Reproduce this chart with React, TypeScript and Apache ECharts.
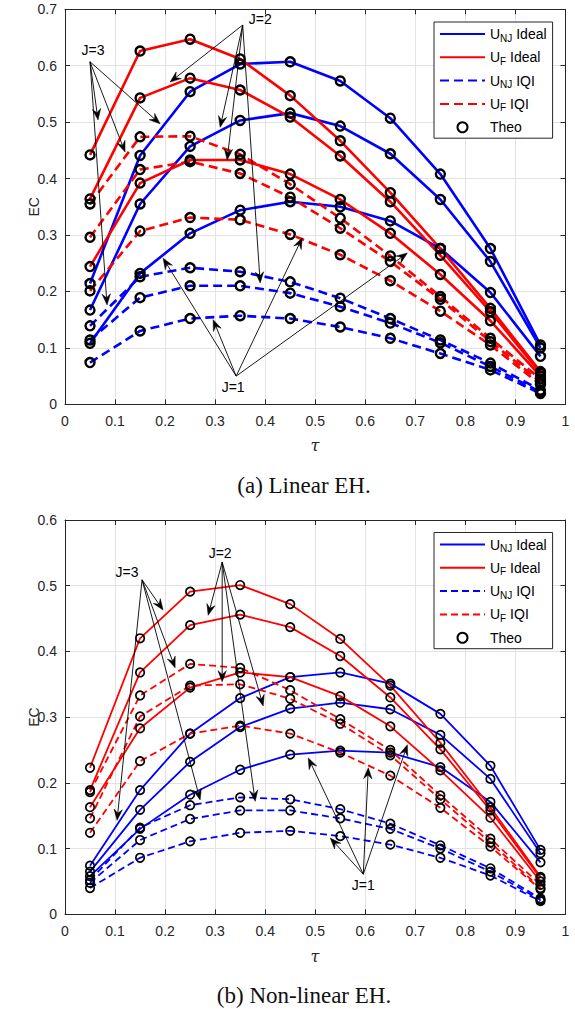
import React, { useEffect, useRef } from "react";
import * as echarts from "echarts";

// ---------- data ----------
const tau = [0.05, 0.15, 0.25, 0.35, 0.45, 0.55, 0.65, 0.75, 0.85, 0.95];

// (a) Linear EH
const linUnjIdealJ1 = [0.108, 0.232, 0.303, 0.344, 0.359, 0.350, 0.325, 0.276, 0.198, 0.085];
const linUnjIdealJ2 = [0.167, 0.355, 0.457, 0.503, 0.516, 0.493, 0.444, 0.363, 0.253, 0.100];
const linUnjIdealJ3 = [0.214, 0.441, 0.554, 0.603, 0.607, 0.573, 0.507, 0.408, 0.276, 0.105];
const linUfIdealJ1 = [0.244, 0.392, 0.433, 0.433, 0.408, 0.363, 0.303, 0.230, 0.148, 0.050];
const linUfIdealJ2 = [0.364, 0.543, 0.578, 0.557, 0.509, 0.440, 0.359, 0.264, 0.164, 0.055];
const linUfIdealJ3 = [0.442, 0.626, 0.647, 0.612, 0.547, 0.467, 0.375, 0.276, 0.170, 0.058];
const linUnjIqiJ1 = [0.074, 0.130, 0.152, 0.157, 0.152, 0.137, 0.117, 0.090, 0.061, 0.019];
const linUnjIqiJ2 = [0.114, 0.189, 0.210, 0.210, 0.197, 0.173, 0.144, 0.109, 0.067, 0.022];
const linUnjIqiJ3 = [0.139, 0.226, 0.242, 0.235, 0.217, 0.188, 0.152, 0.114, 0.073, 0.025];
const linUfIqiJ1 = [0.201, 0.307, 0.331, 0.327, 0.301, 0.265, 0.219, 0.165, 0.105, 0.035];
const linUfIqiJ2 = [0.296, 0.416, 0.430, 0.409, 0.367, 0.312, 0.253, 0.186, 0.111, 0.040];
const linUfIqiJ3 = [0.355, 0.474, 0.475, 0.443, 0.390, 0.330, 0.263, 0.191, 0.117, 0.045];

// (b) Non-linear EH
const nlUnjIdealJ1 = [0.058, 0.130, 0.182, 0.220, 0.243, 0.249, 0.246, 0.224, 0.171, 0.079];
const nlUnjIdealJ2 = [0.065, 0.159, 0.232, 0.285, 0.313, 0.322, 0.312, 0.273, 0.206, 0.093];
const nlUnjIdealJ3 = [0.074, 0.189, 0.275, 0.329, 0.361, 0.368, 0.351, 0.305, 0.226, 0.098];
const nlUfIdealJ1 = [0.163, 0.283, 0.345, 0.368, 0.361, 0.332, 0.286, 0.219, 0.147, 0.050];
const nlUfIdealJ2 = [0.189, 0.368, 0.440, 0.456, 0.437, 0.393, 0.330, 0.251, 0.158, 0.055];
const nlUfIdealJ3 = [0.223, 0.420, 0.491, 0.501, 0.472, 0.419, 0.348, 0.261, 0.163, 0.057];
const nlUnjIqiJ1 = [0.040, 0.086, 0.111, 0.124, 0.127, 0.119, 0.106, 0.086, 0.059, 0.020];
const nlUnjIqiJ2 = [0.048, 0.113, 0.145, 0.158, 0.158, 0.146, 0.130, 0.100, 0.065, 0.022];
const nlUnjIqiJ3 = [0.052, 0.132, 0.166, 0.178, 0.175, 0.160, 0.138, 0.105, 0.070, 0.024];
const nlUfIqiJ1 = [0.124, 0.233, 0.275, 0.287, 0.275, 0.246, 0.211, 0.162, 0.103, 0.038];
const nlUfIqiJ2 = [0.146, 0.301, 0.348, 0.350, 0.328, 0.290, 0.242, 0.175, 0.109, 0.040];
const nlUfIqiJ3 = [0.186, 0.333, 0.381, 0.375, 0.341, 0.297, 0.250, 0.181, 0.115, 0.045];

const legendNames = ["UNJ Ideal", "UF Ideal", "UNJ IQI", "UF IQI", "Theo"];

// annotation anchors in data coordinates
const linAnnotations = [
  { label: "J=3", text: [0.056, 0.628], from: [0.05, 0.607], to: [[0.066, 0.504], [0.12, 0.447], [0.19, 0.497], [0.084, 0.176]] },
  { label: "J=2", text: [0.39, 0.683], from: [0.355, 0.672], to: [[0.21, 0.571], [0.31, 0.491], [0.324, 0.433], [0.39, 0.215]] },
  { label: "J=1", text: [0.336, 0.031], from: [0.342, 0.05], to: [[0.196, 0.259], [0.296, 0.15], [0.474, 0.295], [0.684, 0.268]] },
];
const nlAnnotations = [
  { label: "J=3", text: [0.124, 0.521], from: [0.154, 0.509], to: [[0.196, 0.463], [0.22, 0.375], [0.27, 0.174], [0.104, 0.143]] },
  { label: "J=2", text: [0.31, 0.55], from: [0.314, 0.536], to: [[0.286, 0.455], [0.314, 0.354], [0.396, 0.317], [0.38, 0.172]] },
  { label: "J=1", text: [0.596, 0.045], from: [0.596, 0.061], to: [[0.486, 0.238], [0.53, 0.116], [0.606, 0.223], [0.684, 0.258]] },
];

type Group = { name: string; color: string; dashed: boolean; sets: number[][] };

const linGroups: Group[] = [
  { name: "UNJ Ideal", color: "#0000ff", dashed: false, sets: [linUnjIdealJ1, linUnjIdealJ2, linUnjIdealJ3] },
  { name: "UF Ideal", color: "#ff0000", dashed: false, sets: [linUfIdealJ1, linUfIdealJ2, linUfIdealJ3] },
  { name: "UNJ IQI", color: "#0000ff", dashed: true, sets: [linUnjIqiJ1, linUnjIqiJ2, linUnjIqiJ3] },
  { name: "UF IQI", color: "#ff0000", dashed: true, sets: [linUfIqiJ1, linUfIqiJ2, linUfIqiJ3] },
];
const nlGroups: Group[] = [
  { name: "UNJ Ideal", color: "#0000ff", dashed: false, sets: [nlUnjIdealJ1, nlUnjIdealJ2, nlUnjIdealJ3] },
  { name: "UF Ideal", color: "#ff0000", dashed: false, sets: [nlUfIdealJ1, nlUfIdealJ2, nlUfIdealJ3] },
  { name: "UNJ IQI", color: "#0000ff", dashed: true, sets: [nlUnjIqiJ1, nlUnjIqiJ2, nlUnjIqiJ3] },
  { name: "UF IQI", color: "#ff0000", dashed: true, sets: [nlUfIqiJ1, nlUfIqiJ2, nlUfIqiJ3] },
];

const SANS = "'Liberation Sans', Arial, Helvetica, sans-serif";
const SERIF = "'Liberation Serif', 'Times New Roman', serif";
const GREEK = "'DejaVu Serif', 'Liberation Serif', serif";
const AXIS_COLOR = "#262626";

type Cfg = {
  groups: Group[];
  ymax: number;
  gridTop: number;
  gridHeight: number;
  lineWidth: number;
  dash: number[];
  symbolSize: number;
  symbolBorder: number;
  legendTop: number;
  caption: string;
  captionY: number;
  tauY: number;
  annotations: typeof linAnnotations;
};

function fmt(v: number) {
  return String(Math.round(v * 10) / 10);
}

function buildOption(c: Cfg) {
  const series: any[] = [];
  const theo: number[][] = [];
  c.groups.forEach((g) => {
    g.sets.forEach((vals) => {
      series.push({
        type: "line",
        name: g.name,
        data: tau.map((t, i) => [t, vals[i]]),
        symbol: "none",
        showSymbol: false,
        lineStyle: { color: g.color, width: c.lineWidth, type: g.dashed ? c.dash : "solid" },
        itemStyle: { color: g.color },
        z: 2,
      });
      tau.forEach((t, i) => theo.push([t, vals[i]]));
    });
  });
  series.push({
    type: "scatter",
    name: "Theo",
    data: theo,
    symbol: "circle",
    symbolSize: c.symbolSize,
    itemStyle: { color: "rgba(255,255,255,0)", borderColor: "#000", borderWidth: c.symbolBorder, opacity: 1 },
    z: 3,
  });

  const richText = {
    n: { fontSize: 14, fontFamily: SANS, color: "#000", lineHeight: 18 },
    s: { fontSize: 10, fontFamily: SANS, color: "#000", lineHeight: 18, verticalAlign: "bottom" as const },
  };
  const hidden = { color: "rgba(0,0,0,0)", borderColor: "rgba(0,0,0,0)", borderWidth: 0, opacity: 0 };

  return {
    animation: false,
    backgroundColor: "#fff",
    grid: { left: 65, right: 9.5, top: c.gridTop, height: c.gridHeight, containLabel: false },
    xAxis: [
      {
        type: "value",
        min: 0,
        max: 1,
        interval: 0.1,
        position: "bottom",
        axisLine: { show: true, onZero: false, lineStyle: { color: AXIS_COLOR, width: 1 } },
        axisTick: { show: true, inside: true, length: 5, lineStyle: { color: AXIS_COLOR } },
        axisLabel: { formatter: fmt, color: AXIS_COLOR, fontSize: 14, fontFamily: SANS, margin: 10 },
        splitLine: { show: true, lineStyle: { color: "#e3e3e3", width: 1 } },
      },
      {
        type: "value",
        min: 0,
        max: 1,
        interval: 0.1,
        position: "top",
        axisLine: { show: true, onZero: false, lineStyle: { color: AXIS_COLOR, width: 1 } },
        axisTick: { show: true, inside: true, length: 5, lineStyle: { color: AXIS_COLOR } },
        axisLabel: { show: false },
        splitLine: { show: false },
      },
    ],
    yAxis: [
      {
        type: "value",
        min: 0,
        max: c.ymax,
        interval: 0.1,
        position: "left",
        axisLine: { show: true, onZero: false, lineStyle: { color: AXIS_COLOR, width: 1 } },
        axisTick: { show: true, inside: true, length: 5, lineStyle: { color: AXIS_COLOR } },
        axisLabel: { formatter: fmt, color: AXIS_COLOR, fontSize: 14, fontFamily: SANS, margin: 8 },
        splitLine: { show: true, lineStyle: { color: "#e3e3e3", width: 1 } },
      },
      {
        type: "value",
        min: 0,
        max: c.ymax,
        interval: 0.1,
        position: "right",
        axisLine: { show: true, onZero: false, lineStyle: { color: AXIS_COLOR, width: 1 } },
        axisTick: { show: true, inside: true, length: 5, lineStyle: { color: AXIS_COLOR } },
        axisLabel: { show: false },
        splitLine: { show: false },
      },
    ],
    legend: {
      orient: "vertical",
      left: 434,
      top: c.legendTop,
      data: legendNames.map((n) => (n === "Theo" ? { name: n } : { name: n, itemStyle: hidden })),
      itemWidth: 45,
      itemHeight: 10,
      itemGap: 7.3,
      padding: [5, 6, 4, 5],
      backgroundColor: "#fff",
      borderColor: AXIS_COLOR,
      borderWidth: 1,
      borderRadius: 0,
      selectedMode: false,
      formatter: (name: string) => {
        if (name === "UNJ Ideal") return "{n|U}{s|NJ}{n| Ideal}";
        if (name === "UF Ideal") return "{n|U}{s|F}{n| Ideal}";
        if (name === "UNJ IQI") return "{n|U}{s|NJ}{n| IQI}";
        if (name === "UF IQI") return "{n|U}{s|F}{n| IQI}";
        return "{n|" + name + "}";
      },
      textStyle: { rich: richText, color: "#000", fontSize: 14, fontFamily: SANS },
    },
    series,
  };
}

function staticGraphics(c: Cfg) {
  const midY = c.gridTop + c.gridHeight / 2;
  return [
    {
      type: "text",
      x: 34,
      y: midY,
      rotation: Math.PI / 2,
      style: { text: "EC", font: `14px ${SANS}`, fill: AXIS_COLOR, textAlign: "center", textVerticalAlign: "middle" },
    },
    {
      type: "text",
      x: 315,
      y: c.tauY,
      style: { text: "τ", font: `italic 16px ${GREEK}`, fill: AXIS_COLOR, textAlign: "center", textVerticalAlign: "middle" },
    },
    {
      type: "text",
      x: 304,
      y: c.captionY,
      style: { text: c.caption, font: `23px ${SERIF}`, fill: "#111", textAlign: "center", textVerticalAlign: "middle" },
    },
  ];
}

function arrowGraphics(chart: any, anns: typeof linAnnotations) {
  const out: any[] = [];
  const px = (p: number[]) => chart.convertToPixel({ xAxisIndex: 0, yAxisIndex: 0 }, p) as number[];
  anns.forEach((a) => {
    const t = px(a.text);
    out.push({
      type: "text",
      x: t[0],
      y: t[1],
      z: 100,
      style: { text: a.label, font: `14px ${SANS}`, fill: "#000", textAlign: "center", textVerticalAlign: "middle" },
    });
    const o = px(a.from);
    a.to.forEach((h) => {
      const e = px(h);
      const dx = e[0] - o[0];
      const dy = e[1] - o[1];
      const len = Math.sqrt(dx * dx + dy * dy) || 1;
      const ux = dx / len;
      const uy = dy / len;
      const nx = -uy;
      const ny = ux;
      const L = 11;
      const W = 4.2;
      const bx = e[0] - ux * L;
      const by = e[1] - uy * L;
      const mx = e[0] - ux * L * 0.65;
      const my = e[1] - uy * L * 0.65;
      out.push({
        type: "line",
        z: 100,
        shape: { x1: o[0], y1: o[1], x2: mx, y2: my },
        style: { stroke: "#000", lineWidth: 0.9 },
      });
      out.push({
        type: "polygon",
        z: 100,
        shape: { points: [[e[0], e[1]], [bx + nx * W, by + ny * W], [mx, my], [bx - nx * W, by - ny * W]] },
        style: { fill: "#000", stroke: "#000", lineWidth: 0.5 },
      });
    });
  });
  return out;
}

function ChartPanel({ cfg, top, height }: { cfg: Cfg; top: number; height: number }) {
  const ref = useRef<HTMLDivElement>(null);
  useEffect(() => {
    if (!ref.current) return;
    const chart = echarts.init(ref.current, null, { renderer: "svg" });
    const opt: any = buildOption(cfg);
    const stat = staticGraphics(cfg);
    opt.graphic = { elements: stat };
    chart.setOption(opt);
    const arrows = arrowGraphics(chart, cfg.annotations);
    chart.setOption({ graphic: { elements: [...stat, ...arrows] } });
    return () => chart.dispose();
  }, []);
  return <div ref={ref} style={{ position: "absolute", left: 0, top, width: 575, height }} />;
}

const linCfg: Cfg = {
  groups: linGroups,
  ymax: 0.7,
  gridTop: 9.3,
  gridHeight: 395,
  lineWidth: 2.6,
  dash: [9, 5],
  symbolSize: 9,
  symbolBorder: 2.4,
  legendTop: 22,
  caption: "(a) Linear EH.",
  captionY: 485,
  tauY: 445,
  annotations: linAnnotations,
};

const nlCfg: Cfg = {
  groups: nlGroups,
  ymax: 0.6,
  gridTop: 10,
  gridHeight: 394.3,
  lineWidth: 1.8,
  dash: [7, 4],
  symbolSize: 8.5,
  symbolBorder: 1.7,
  legendTop: 22.5,
  caption: "(b) Non-linear EH.",
  captionY: 485,
  tauY: 446,
  annotations: nlAnnotations,
};

export default function App() {
  return (
    <div style={{ position: "absolute", left: 0, top: 0, width: 575, height: 1009, background: "#fff", overflow: "hidden" }}>
      <ChartPanel cfg={linCfg} top={0} height={510} />
      <ChartPanel cfg={nlCfg} top={510} height={499} />
    </div>
  );
}
